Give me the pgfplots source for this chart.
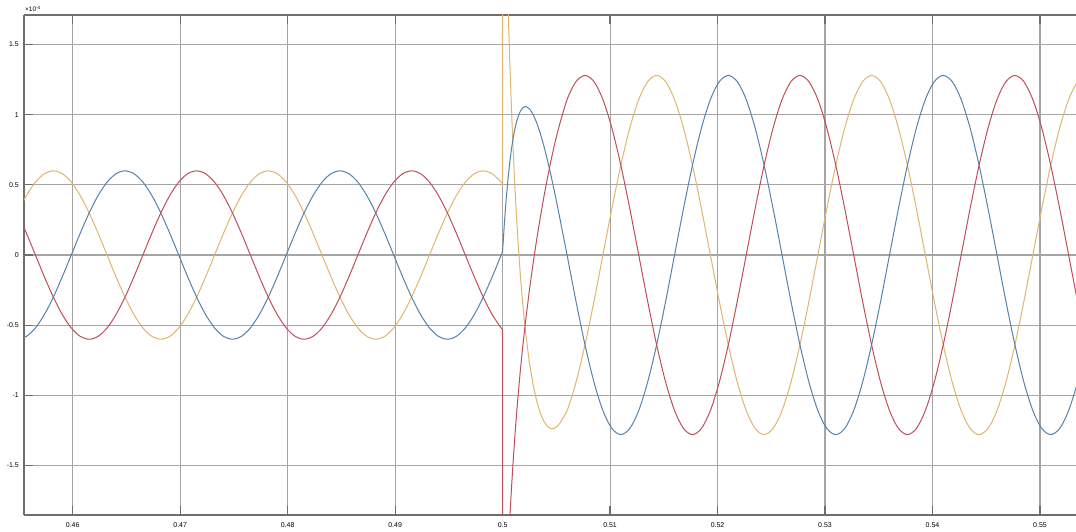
\documentclass[border=0pt]{standalone}
\usepackage{fontspec}
\setmainfont{Liberation Sans}
\usepackage{pgfplots}
\usepackage{pgfplotstable}
\pgfplotsset{compat=1.18}
\definecolor{cY}{RGB}{222,182,112}
\definecolor{cB}{RGB}{86,130,170}
\definecolor{cR}{RGB}{190,78,90}
\definecolor{gridc}{RGB}{165,165,165}
\definecolor{axc}{RGB}{110,110,110}

% before the switching instant (x 1e-4)
\pgfplotstableread{
t y b r
0.454867 0.3 -0.6 0.3
0.4557 0.4243 -0.5796 0.1553
0.456533 0.5196 -0.5196 0
0.457367 0.5796 -0.4243 -0.1553
0.4582 0.6 -0.3 -0.3
0.459033 0.5796 -0.1553 -0.4243
0.459867 0.5196 0 -0.5196
0.4607 0.4243 0.1553 -0.5796
0.461533 0.3 0.3 -0.6
0.462367 0.1553 0.4243 -0.5796
0.4632 0 0.5196 -0.5196
0.464033 -0.1553 0.5796 -0.4243
0.464867 -0.3 0.6 -0.3
0.4657 -0.4243 0.5796 -0.1553
0.466533 -0.5196 0.5196 0
0.467367 -0.5796 0.4243 0.1553
0.4682 -0.6 0.3 0.3
0.469033 -0.5796 0.1553 0.4243
0.469867 -0.5196 0 0.5196
0.4707 -0.4243 -0.1553 0.5796
0.471533 -0.3 -0.3 0.6
0.472367 -0.1553 -0.4243 0.5796
0.4732 0 -0.5196 0.5196
0.474033 0.1553 -0.5796 0.4243
0.474867 0.3 -0.6 0.3
0.4757 0.4243 -0.5796 0.1553
0.476533 0.5196 -0.5196 0
0.477367 0.5796 -0.4243 -0.1553
0.4782 0.6 -0.3 -0.3
0.479033 0.5796 -0.1553 -0.4243
0.479867 0.5196 0 -0.5196
0.4807 0.4243 0.1553 -0.5796
0.481533 0.3 0.3 -0.6
0.482367 0.1553 0.4243 -0.5796
0.4832 0 0.5196 -0.5196
0.484033 -0.1553 0.5796 -0.4243
0.484867 -0.3 0.6 -0.3
0.4857 -0.4243 0.5796 -0.1553
0.486533 -0.5196 0.5196 0
0.487367 -0.5796 0.4243 0.1553
0.4882 -0.6 0.3 0.3
0.489033 -0.5796 0.1553 0.4243
0.489867 -0.5196 0 0.5196
0.4907 -0.4243 -0.1553 0.5796
0.491533 -0.3 -0.3 0.6
0.492367 -0.1553 -0.4243 0.5796
0.4932 0 -0.5196 0.5196
0.494033 0.1553 -0.5796 0.4243
0.494867 0.3 -0.6 0.3
0.4957 0.4243 -0.5796 0.1553
0.496533 0.5196 -0.5196 0
0.497367 0.5796 -0.4243 -0.1553
0.4982 0.6 -0.3 -0.3
0.499033 0.5796 -0.1553 -0.4243
0.499867 0.5196 0 -0.5196
}\pre

% transient right after the switching instant
\pgfplotstableread{
t y b r
0.499867 0.5196 0 -0.5196
0.5 0.506 0.025 -0.532
0.5 3.434 0.025 -3.151
0.500167 2.801 0.227 -2.767
0.500333 2.256 0.398 -2.433
0.5005 1.785 0.541 -2.140
0.500667 1.379 0.661 -1.882
0.500833 1.027 0.760 -1.653
0.501 0.721 0.842 -1.449
0.501167 0.455 0.907 -1.266
0.501333 0.223 0.959 -1.101
0.5015 0.020 0.998 -0.950
0.501667 -0.158 1.027 -0.811
0.501833 -0.314 1.046 -0.683
0.502 -0.451 1.056 -0.564
0.502167 -0.571 1.058 -0.452
0.5025 -0.770 1.043 -0.248
0.502833 -0.923 1.003 -0.062
0.503167 -1.039 0.944 0.108
0.5035 -1.125 0.869 0.265
0.503833 -1.184 0.780 0.411
0.504167 -1.221 0.679 0.547
0.5045 -1.237 0.568 0.673
0.504833 -1.235 0.449 0.788
0.505167 -1.215 0.3245 0.8926
}\trans

% steady state after the transient
\pgfplotstableread{
t r y b
0.505167 0.8926 -1.215 0.3245
0.506 1.1085 -1.1085 0
0.506833 1.2364 -0.9051 -0.3313
0.507667 1.28 -0.64 -0.64
0.5085 1.2364 -0.3313 -0.9051
0.509333 1.1085 0 -1.1085
0.510167 0.9051 0.3313 -1.2364
0.511 0.64 0.64 -1.28
0.511833 0.3313 0.9051 -1.2364
0.512667 0 1.1085 -1.1085
0.5135 -0.3313 1.2364 -0.9051
0.514333 -0.64 1.28 -0.64
0.515167 -0.9051 1.2364 -0.3313
0.516 -1.1085 1.1085 0
0.516833 -1.2364 0.9051 0.3313
0.517667 -1.28 0.64 0.64
0.5185 -1.2364 0.3313 0.9051
0.519333 -1.1085 0 1.1085
0.520167 -0.9051 -0.3313 1.2364
0.521 -0.64 -0.64 1.28
0.521833 -0.3313 -0.9051 1.2364
0.522667 0 -1.1085 1.1085
0.5235 0.3313 -1.2364 0.9051
0.524333 0.64 -1.28 0.64
0.525167 0.9051 -1.2364 0.3313
0.526 1.1085 -1.1085 0
0.526833 1.2364 -0.9051 -0.3313
0.527667 1.28 -0.64 -0.64
0.5285 1.2364 -0.3313 -0.9051
0.529333 1.1085 0 -1.1085
0.530167 0.9051 0.3313 -1.2364
0.531 0.64 0.64 -1.28
0.531833 0.3313 0.9051 -1.2364
0.532667 0 1.1085 -1.1085
0.5335 -0.3313 1.2364 -0.9051
0.534333 -0.64 1.28 -0.64
0.535167 -0.9051 1.2364 -0.3313
0.536 -1.1085 1.1085 0
0.536833 -1.2364 0.9051 0.3313
0.537667 -1.28 0.64 0.64
0.5385 -1.2364 0.3313 0.9051
0.539333 -1.1085 0 1.1085
0.540167 -0.9051 -0.3313 1.2364
0.541 -0.64 -0.64 1.28
0.541833 -0.3313 -0.9051 1.2364
0.542667 0 -1.1085 1.1085
0.5435 0.3313 -1.2364 0.9051
0.544333 0.64 -1.28 0.64
0.545167 0.9051 -1.2364 0.3313
0.546 1.1085 -1.1085 0
0.546833 1.2364 -0.9051 -0.3313
0.547667 1.28 -0.64 -0.64
0.5485 1.2364 -0.3313 -0.9051
0.549333 1.1085 0 -1.1085
0.550167 0.9051 0.3313 -1.2364
0.551 0.64 0.64 -1.28
0.551833 0.3313 0.9051 -1.2364
0.552667 0 1.1085 -1.1085
0.5535 -0.3313 1.2364 -0.9051
0.554333 -0.64 1.28 -0.64
}\steady

\begin{document}
\begin{tikzpicture}
\begin{axis}[
  name=ax,
  at={(0,0)}, anchor=south west,
  scale only axis, width=1052bp, height=500bp,
  xmin=0.45547, xmax=0.55335, ymin=-1.853, ymax=1.711,
  axis x line*=box, axis y line*=left,
  xtick={0.46,0.47,0.48,0.49,0.5,0.51,0.52,0.53,0.54,0.55},
  ytick={-1.5,-1,-0.5,0,0.5,1,1.5},
  grid=major,
  major grid style={gridc, line width=1.1bp},
  axis line style={axc, line width=1.2bp},
  tick align=inside, major tick length=9bp,
  tick style={axc, line width=1.2bp},
  ticklabel style={font=\fontsize{7}{8}\selectfont},
  /pgf/number format/assume math mode=true,
  /pgf/number format/fixed,
  scaled ticks=false,
  xticklabel shift=4.5bp, yticklabel shift=1.7bp,
  every axis plot/.append style={line width=1bp},
]
\addplot[cY, smooth] table[x=t, y=y] {\pre};
\addplot[cB, smooth] table[x=t, y=b] {\pre};
\addplot[cR, smooth] table[x=t, y=r] {\pre};
\addplot[cY] table[x=t, y=y] {\trans};
\addplot[cB] table[x=t, y=b] {\trans};
\addplot[cR] table[x=t, y=r] {\trans};
\addplot[cY, smooth] table[x=t, y=y] {\steady};
\addplot[cB, smooth] table[x=t, y=b] {\steady};
\addplot[cR, smooth] table[x=t, y=r] {\steady};
\end{axis}
\node[anchor=base west, inner sep=0, font=\fontsize{6.5}{7}\selectfont] at ([xshift=1bp, yshift=3bp]ax.north west) {×10\textsuperscript{-4}};
\pgfresetboundingbox
\path[use as bounding box] (-24bp,-17bp) rectangle (1052bp,515bp);
\end{tikzpicture}
\end{document}
